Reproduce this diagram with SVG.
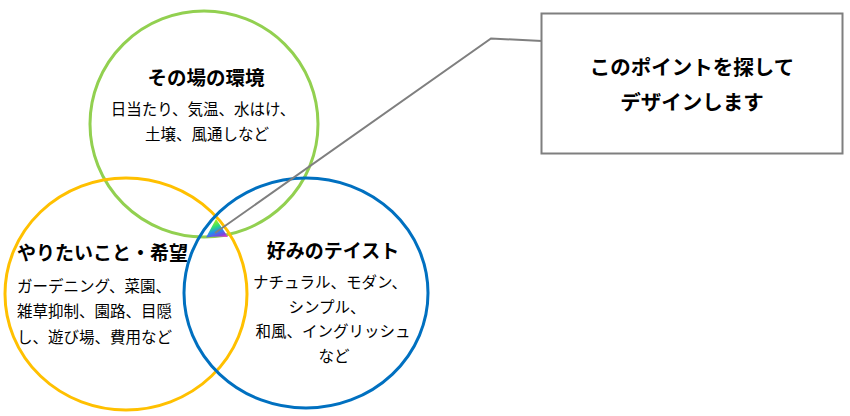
<svg xmlns="http://www.w3.org/2000/svg" width="850" height="416" viewBox="0 0 850 416">
<style>
.c{fill:none;stroke-width:3}
.t{font-family:"Noto Sans CJK JP","Noto Sans",sans-serif;font-weight:bold;fill:#000}
.b{font-family:"Noto Sans CJK JP","Noto Sans",sans-serif;font-weight:normal;fill:#000;font-size:15.5px}
</style>
<defs>
<linearGradient id="rg" x1="0.4" y1="0" x2="0.8" y2="1">
<stop offset="0" stop-color="#c8f000"/>
<stop offset="0.35" stop-color="#30e070"/>
<stop offset="0.6" stop-color="#2090f0"/>
<stop offset="0.85" stop-color="#8040e0"/>
<stop offset="1" stop-color="#e040c0"/>
</linearGradient>
</defs>
<rect width="850" height="416" fill="#fff"/>
<g id="env">
<ellipse class="c" cx="204" cy="124" rx="114" ry="113" stroke="#92D050"/>
<text class="t" x="206" y="85" font-size="19.5" text-anchor="middle">その場の環境</text>
<text class="b" x="203" y="115" text-anchor="middle">日当たり、気温、水はけ、</text>
<text class="b" x="207" y="140" text-anchor="middle">土壌、風通しなど</text>
</g>
<g id="wish">
<ellipse class="c" cx="126" cy="294" rx="121" ry="116" stroke="#FFC000"/>
<text class="t" x="17" y="260" font-size="19">やりたいこと・希望</text>
<text class="b" x="17" y="292">ガーデニング、菜園、</text>
<text class="b" x="17" y="317">雑草抑制、園路、目隠</text>
<text class="b" x="17" y="343">し、遊び場、費用など</text>
</g>
<g id="taste">
<ellipse class="c" cx="306" cy="293" rx="122" ry="115" stroke="#0070C0"/>
<text class="t" x="333" y="258" font-size="19" text-anchor="middle">好みのテイスト</text>
<text class="b" x="330" y="288" text-anchor="middle">ナチュラル、モダン、</text>
<text class="b" x="327" y="313" text-anchor="middle">シンプル、</text>
<text class="b" x="333" y="337" text-anchor="middle">和風、イングリッシュ</text>
<text class="b" x="334" y="362" text-anchor="middle">など</text>
</g>
<g id="point">
<path d="M216,219 L206,237.5 Q217,236 228,237 Z" fill="url(#rg)"/>
</g>
<g id="connectors">
<polyline points="215,233 491,38.5 542,41" fill="none" stroke="#7f7f7f" stroke-width="2"/>
</g>
<g id="callout">
<rect x="541.5" y="13.5" width="301" height="140" fill="#fff" stroke="#7f7f7f" stroke-width="2"/>
<text class="t" x="692" y="75" font-size="20.5" text-anchor="middle">このポイントを探して</text>
<text class="t" x="692" y="110" font-size="20.5" text-anchor="middle">デザインします</text>
</g>
</svg>
